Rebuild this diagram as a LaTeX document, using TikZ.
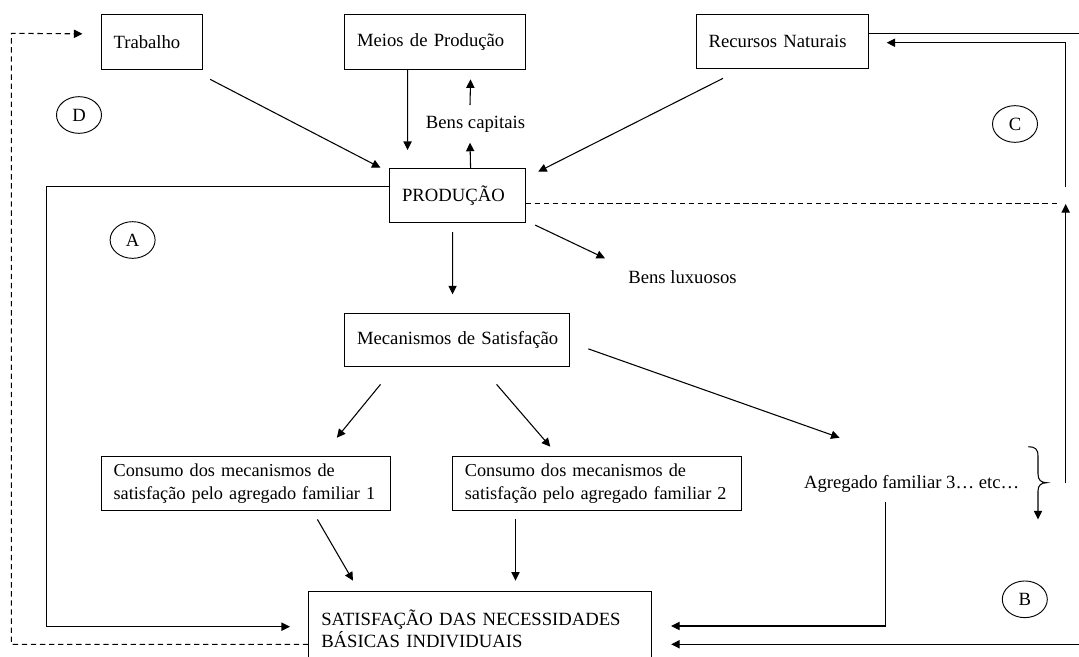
\documentclass[tikz,border=0pt]{standalone}
\usepackage{fontspec}
\setmainfont{Liberation Serif}
\usetikzlibrary{arrows.meta,shapes.geometric}
\begin{document}
\begin{tikzpicture}[x=0.75pt,y=-0.75pt,
  every node/.style={font=\fontsize{14}{17}\selectfont},
  box/.style={draw, line width=0.8pt, align=left, inner xsep=9.4pt, inner ysep=0pt, anchor=north west},
  smallbox/.style={box, font=\fontsize{13.7}{17}\selectfont},
  lbl/.style={inner sep=0pt},
  circ/.style={draw, ellipse, line width=0.7pt, minimum width=33.75pt, minimum height=27.5pt, inner sep=0pt},
  arr/.style={line width=0.8pt, -{Triangle[length=6.4pt,width=6.2pt]}},
  ln/.style={line width=0.8pt},
  dsh/.style={line width=0.8pt, dash pattern=on 4pt off 2.8pt}]
\useasboundingbox (0,0) rectangle (1079,657);
\clip (0,0) rectangle (1079,657);

% boxes
\node[box, text width=57.4pt, minimum height=41pt] (trab) at (100.5,14) {\mbox{Trabalho}};
\node[box, text width=117pt, minimum height=41pt] (meios) at (344,14) {\mbox{Meios de Produção}};
\node[box, text width=110.25pt, minimum height=40.7pt] (recur) at (695.6,14) {\mbox{Recursos Naturais}};
\node[box, text width=82.9pt, minimum height=40.5pt] (prod) at (389,168.3) {\mbox{PRODUÇÃO}};
\node[box, text width=150.2pt, minimum height=40pt] (mec) at (344,312.7) {\mbox{Mecanismos de Satisfação}};
\node[smallbox, text width=198.4pt, minimum height=41pt] (cons1) at (100.5,455.7) {\mbox{Consumo dos mecanismos de}\\\mbox{satisfação pelo agregado familiar 1}};
\node[smallbox, text width=198.15pt, minimum height=41pt] (cons2) at (451.8,455.7) {\mbox{Consumo dos mecanismos de}\\\mbox{satisfação pelo agregado familiar 2}};
\node[box, text width=238.5pt, minimum height=56.5pt] (sat) at (308.2,590.7) {\mbox{SATISFAÇÃO DAS NECESSIDADES}\\\mbox{BÁSICAS INDIVIDUAIS}};

% labels
\node[lbl] (bcap) at (475.5,124.3) {Bens capitais};
\node[lbl] (blux) at (682.5,276.7) {Bens luxuosos};
\node[lbl] (agr) at (911.7,484) {Agregado familiar 3… etc…};

% circled letters
\node[circ] (D) at (79,115) {D};
\node[circ] (A) at (132.6,240) {A};
\node[circ] (C) at (1015,124) {C};
\node[circ] (B) at (1024.8,599.3) {B};

% free ends
\coordinate (edgeTop) at (1079,33.3);
\coordinate (edgeBot) at (1079,644.3);
\coordinate (loopC) at (1065.8,186.7);
\coordinate (dashEnd) at (1058,203.3);
\coordinate (upStart) at (1065.7,483);
\coordinate (upEnd) at (1065.7,204);

% connectors
\draw[arr, dsh] ([shift={(0,53.6)}]sat.north west) -| (11.4,33.3) -- ([shift={(-18,-8)}]trab.west);
\draw[arr] ([shift={(7,9.6)}]trab.south east) -- ([shift={(-8.5,-0.6)}]prod.north west);
\draw[arr] ([shift={(-27.5,0)}]meios.south) -- ([shift={(-49.75,-18.3)}]prod.north);
\draw[arr] ([shift={(13.25,0)}]prod.north) -- ([shift={(-5.5,18.4)}]bcap.center);
\draw[arr] ([shift={(-5.5,-19.3)}]bcap.center) -- ([shift={(35.5,9.6)}]meios.south);
\draw[arr] ([shift={(27.4,9)}]recur.south west) -- ([shift={(12.5,3.4)}]prod.north east);
\draw[ln] ([shift={(0,19.3)}]recur.north east) -- (edgeTop);
\draw[arr] (loopC) |- ([shift={(17.9,28.7)}]recur.north east);
\draw[arr] ([shift={(0,18.4)}]prod.north west) -| (46.8,626.7) -- ([shift={(-18.2,36)}]sat.north west);
\draw[arr] ([shift={(-4.75,8.7)}]prod.south) -- ([shift={(-4.65,-18.4)}]mec.north);
\draw[arr] ([shift={(9.5,1.7)}]prod.south east) -- ([shift={(-77.5,-18.4)}]blux.center);
\draw[dsh] ([shift={(0,35)}]prod.north east) -- (dashEnd);
\draw[arr] (upStart) -- (upEnd);
\draw[arr] ([shift={(36.5,17.3)}]mec.south west) -- ([shift={(-54.3,-18)}]cons1.north east);
\draw[arr] ([shift={(152.6,17.3)}]mec.south west) -- ([shift={(98.5,-9)}]cons2.north west);
\draw[arr] ([shift={(17.9,8.95)}]mec.east) -- ([shift={(-72.1,-46.3)}]agr.center);
\draw[arr] ([shift={(71.55,8)}]cons1.south) -- ([shift={(44.8,-10)}]sat.north west);
\draw[arr] ([shift={(63.7,8)}]cons2.south west) -- ([shift={(207.3,-10)}]sat.north west);
\draw[arr] ([shift={(-26.3,17.7)}]agr.center) |- ([shift={(18.8,35.3)}]sat.north east);
\draw[arr] (edgeBot) -- ([shift={(18.8,53.6)}]sat.north east);

% brace with arrow
\draw[arr] (1028.3,446.7) .. controls (1035,446.7) and (1038,449) .. (1038,456) -- (1038,474)
  .. controls (1038,480) and (1041,482.7) .. (1046.7,482.7)
  .. controls (1041,482.7) and (1038,485.4) .. (1038,491) -- (1038,519.3);
\end{tikzpicture}
\end{document}
